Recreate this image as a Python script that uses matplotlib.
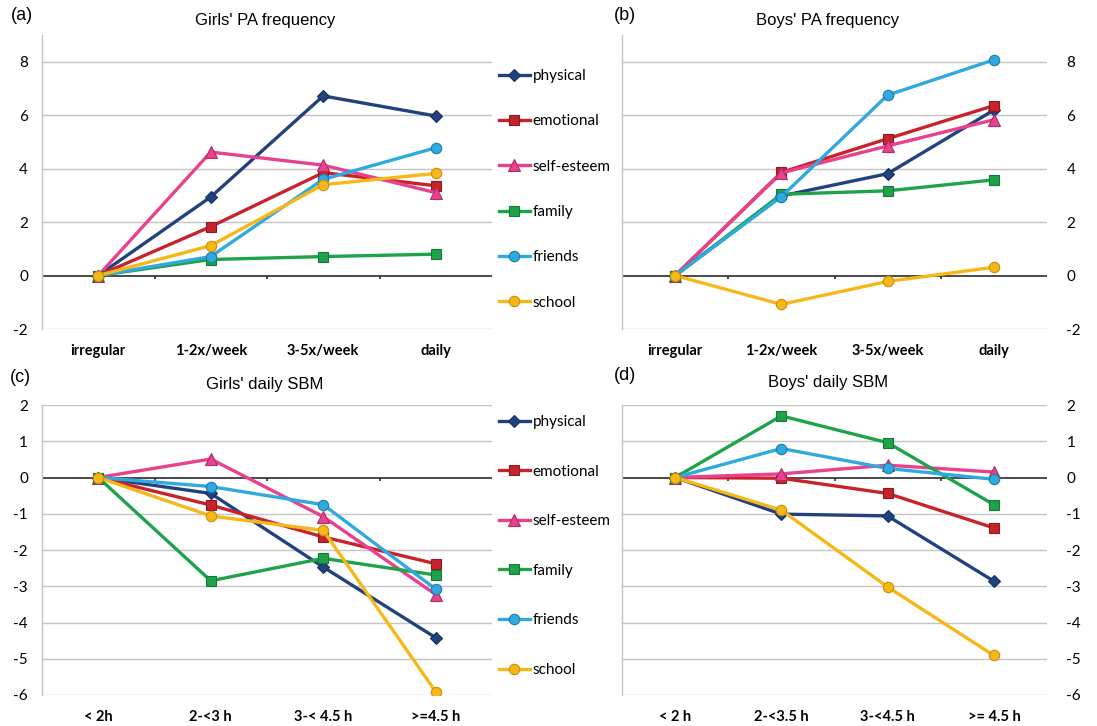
import matplotlib
matplotlib.use("Agg")
import matplotlib.pyplot as plt
from matplotlib.lines import Line2D

# --- DATA ---
series = ["physical", "emotional", "self-esteem", "family", "friends", "school"]

pa_categories = ["irregular", "1-2x/week", "3-5x/week", "daily"]
girls_sbm_categories = ["< 2h", "2-<3 h", "3-< 4.5 h", ">=4.5 h"]
boys_sbm_categories = ["< 2 h", "2-<3.5 h", "3-<4.5 h", ">= 4.5 h"]

girls_pa_physical = [0, 2.94, 6.72, 5.97]
girls_pa_emotional = [0, 1.83, 3.85, 3.36]
girls_pa_selfesteem = [0, 4.62, 4.13, 3.10]
girls_pa_family = [0, 0.60, 0.71, 0.80]
girls_pa_friends = [0, 0.71, 3.60, 4.78]
girls_pa_school = [0, 1.12, 3.40, 3.82]

boys_pa_physical = [0, 2.98, 3.81, 6.19]
boys_pa_emotional = [0, 3.86, 5.12, 6.36]
boys_pa_selfesteem = [0, 3.84, 4.85, 5.83]
boys_pa_family = [0, 3.04, 3.17, 3.58]
boys_pa_friends = [0, 2.95, 6.75, 8.07]
boys_pa_school = [0, -1.08, -0.22, 0.31]

girls_sbm_physical = [0, -0.44, -2.47, -4.42]
girls_sbm_emotional = [0, -0.76, -1.64, -2.38]
girls_sbm_selfesteem = [0, 0.51, -1.08, -3.23]
girls_sbm_family = [0, -2.85, -2.23, -2.69]
girls_sbm_friends = [0, -0.25, -0.75, -3.08]
girls_sbm_school = [0, -1.06, -1.46, -5.91]

boys_sbm_physical = [0, -1.01, -1.06, -2.86]
boys_sbm_emotional = [0, -0.02, -0.44, -1.39]
boys_sbm_selfesteem = [0, 0.10, 0.34, 0.15]
boys_sbm_family = [0, 1.70, 0.96, -0.75]
boys_sbm_friends = [0, 0.80, 0.25, -0.05]
boys_sbm_school = [0, -0.90, -3.02, -4.91]

# --- STYLE ---
colors = ["#22427f", "#c8232c", "#e8418d", "#1fa34a", "#2fa9de", "#f6b817"]
edges = ["#16305e", "#8e1a20", "#b02c68", "#157836", "#1c7ca6", "#c98f0a"]
markers = ["D", "s", "^", "s", "o", "o"]
msizes = [6, 7, 8, 7, 7.5, 7.5]

W, H = 1097, 726
fig = plt.figure(figsize=(W / 100, H / 100), dpi=100)

TICK_FONT = "Lato"
TITLE_FONT = "Liberation Sans"


def px_axes(x0, x1, y_top, y_bot):
    return fig.add_axes([x0 / W, 1 - y_bot / H, (x1 - x0) / W, (y_bot - y_top) / H])


def draw_panel(ax, cats, data, ylim, yticks, right=False):
    xs = range(len(cats))
    for i, vals in enumerate(data):
        ax.plot(xs, vals, color=colors[i], lw=2.4, marker=markers[i],
                ms=msizes[i], mfc=colors[i], mec=edges[i], mew=0.8,
                zorder=5 + i)
    ax.set_xlim(-0.5, len(cats) - 0.5)
    ax.set_ylim(*ylim)
    ax.set_yticks(yticks)
    ax.set_yticklabels([str(t) for t in yticks], fontfamily=TICK_FONT, fontsize=11)
    for t in yticks:
        if t != 0:
            ax.axhline(t, color="#c4c4c4", lw=1.0, zorder=1)
    ax.axhline(0, color="#2b2b2b", lw=1.2, zorder=2)
    # category boundary ticks on the zero line
    span = ylim[1] - ylim[0]
    ax.vlines([0.5, 1.5, 2.5], -0.012 * span, 0.0, color="#2b2b2b", lw=1.2, zorder=2)
    ax.set_xticks(list(xs))
    ax.set_xticklabels(cats, fontfamily=TICK_FONT, fontweight="bold", fontsize=10.5)
    ax.tick_params(axis="x", length=0, pad=11)
    for s in ["top", "right", "bottom"]:
        ax.spines[s].set_visible(False)
    ax.spines["left"].set_color("#c4c4c4")
    ax.spines["left"].set_linewidth(1.0)
    if right:
        ax.yaxis.tick_right()
        ax.tick_params(axis="y", length=0, pad=14)
    else:
        ax.tick_params(axis="y", length=0, pad=10)
    ax.set_facecolor("none")


ax_a = px_axes(42, 492, 35, 329)
draw_panel(ax_a, pa_categories,
           [girls_pa_physical, girls_pa_emotional, girls_pa_selfesteem,
            girls_pa_family, girls_pa_friends, girls_pa_school],
           (-2, 9), [-2, 0, 2, 4, 6, 8])

ax_b = px_axes(622, 1047, 35, 329)
draw_panel(ax_b, pa_categories,
           [boys_pa_physical, boys_pa_emotional, boys_pa_selfesteem,
            boys_pa_family, boys_pa_friends, boys_pa_school],
           (-2, 9), [-2, 0, 2, 4, 6, 8], right=True)

ax_c = px_axes(42, 492, 405, 695)
draw_panel(ax_c, girls_sbm_categories,
           [girls_sbm_physical, girls_sbm_emotional, girls_sbm_selfesteem,
            girls_sbm_family, girls_sbm_friends, girls_sbm_school],
           (-6, 2), [-6, -5, -4, -3, -2, -1, 0, 1, 2])

ax_d = px_axes(622, 1047, 405, 695)
draw_panel(ax_d, boys_sbm_categories,
           [boys_sbm_physical, boys_sbm_emotional, boys_sbm_selfesteem,
            boys_sbm_family, boys_sbm_friends, boys_sbm_school],
           (-6, 2), [-6, -5, -4, -3, -2, -1, 0, 1, 2], right=True)

# --- LEGENDS ---
handles = [Line2D([], [], color=colors[i], lw=2.4, marker=markers[i],
                  ms=msizes[i], mfc=colors[i], mec=edges[i], mew=0.8)
           for i in range(len(series))]

fig.legend(handles, series, loc="upper left", bbox_to_anchor=(499 / W, 1 - 69 / H),
           frameon=False, handlelength=2.0, handletextpad=0.2, labelspacing=2.05,
           prop={"family": TICK_FONT, "size": 11}, borderaxespad=0, borderpad=0)
fig.legend(handles, series, loc="upper left", bbox_to_anchor=(499 / W, 1 - 415 / H),
           frameon=False, handlelength=2.0, handletextpad=0.2, labelspacing=2.33,
           prop={"family": TICK_FONT, "size": 11}, borderaxespad=0, borderpad=0)

# --- TITLES ---
fig.text(265 / W, 1 - 20 / H, "Girls' PA frequency", ha="center", va="center",
         fontfamily=TITLE_FONT, fontsize=12)
fig.text(828 / W, 1 - 20 / H, "Boys' PA frequency", ha="center", va="center",
         fontfamily=TITLE_FONT, fontsize=12)
fig.text(265 / W, 1 - 385 / H, "Girls' daily SBM", ha="center", va="center",
         fontfamily=TITLE_FONT, fontsize=12)
fig.text(828 / W, 1 - 383 / H, "Boys' daily SBM", ha="center", va="center",
         fontfamily=TITLE_FONT, fontsize=12)

for label, x, y in [("(a)", 22, 15), ("(b)", 625, 15), ("(c)", 20, 377), ("(d)", 625, 376)]:
    fig.text(x / W, 1 - y / H, label, ha="center", va="center",
             fontfamily=TITLE_FONT, fontsize=13)

fig.savefig("out.png", dpi=100)
